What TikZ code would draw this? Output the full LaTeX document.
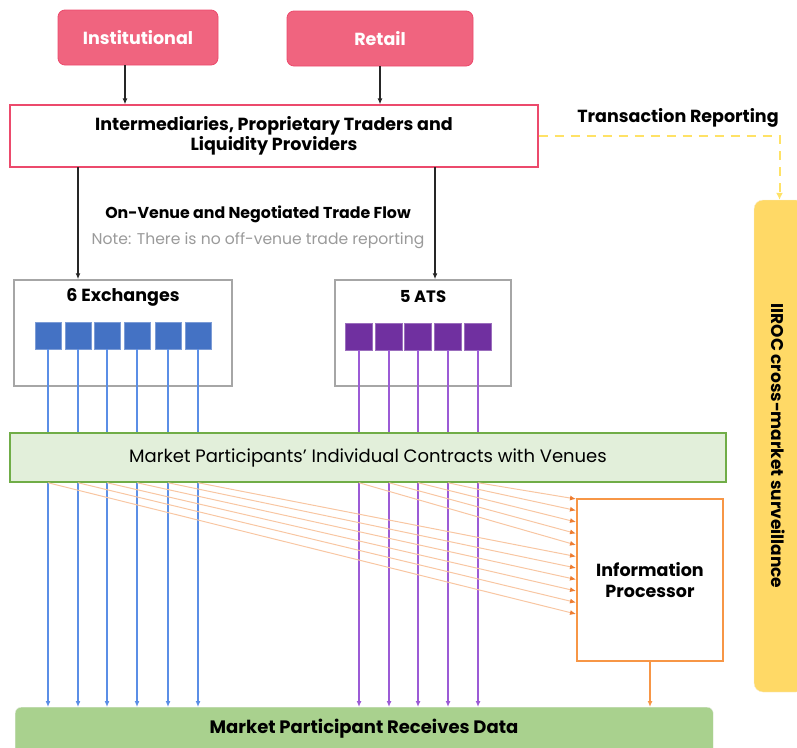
\documentclass[tikz,border=0pt]{standalone}
\usepackage{fontspec}
\setmainfont{Poppins}
\usetikzlibrary{arrows.meta}
\definecolor{pinkfill}{HTML}{F0647F}
\definecolor{pinkline}{HTML}{EC4A6C}
\definecolor{exblue}{HTML}{4472C4}
\definecolor{blueln}{HTML}{5B8EE6}
\definecolor{atspurple}{HTML}{7030A0}
\definecolor{purpleln}{HTML}{9C5BD6}
\definecolor{lightgreen}{HTML}{E2EFDA}
\definecolor{greenline}{HTML}{70AD47}
\definecolor{midgreen}{HTML}{A9D18E}
\definecolor{ipline}{HTML}{F79646}
\definecolor{orangeln}{HTML}{F8C6A2}
\definecolor{orangetip}{HTML}{EE7D31}
\definecolor{yellowbox}{HTML}{FFD966}
\definecolor{yellowdash}{HTML}{FFE266}
\definecolor{graybox}{HTML}{A6A6A6}
\definecolor{notegray}{HTML}{9A9A9A}
\begin{document}
\begin{tikzpicture}[x=1pt,y=-1pt,
  pinkbox/.style={draw=pinkline, fill=pinkfill, rounded corners=7pt, text=white, font=\bfseries\fontsize{17.5}{20}\selectfont, line width=0.8pt},
  interbox/.style={draw=pinkline, fill=white, line width=1.2pt, align=center, font=\bfseries\fontsize{17.5}{20}\selectfont},
  venuebox/.style={draw=graybox, fill=white, line width=1.5pt},
  title/.style={font=\bfseries\fontsize{17.5}{20}\selectfont},
  bluesq/.style={fill=exblue, draw=exblue!70, minimum width=26pt, minimum height=27pt, inner sep=0pt},
  purplesq/.style={fill=atspurple, draw=atspurple!70, minimum width=27pt, minimum height=27pt, inner sep=0pt},
  blarr/.style={draw=blueln, line width=1.4pt, -{Latex[length=6pt,width=5pt]}},
  purarr/.style={draw=purpleln, line width=1.4pt, -{Latex[length=6pt,width=5pt]}},
  blkarr/.style={draw=black!85, line width=1.2pt, -{Latex[length=6pt,width=5pt]}},
  orarr/.style={draw=orangeln, line width=1pt, -{Latex[length=6pt,width=5pt,color=orangetip]}},
  ydash/.style={draw=yellowdash, line width=2pt, dash pattern=on 9pt off 7pt, -{Latex[length=7pt,width=7pt,color=yellowdash]}},
]
\useasboundingbox (0,0) rectangle (797,747);

% top boxes
\node[pinkbox, minimum width=160pt, minimum height=55pt] (inst) at (138,37.5) {Institutional};
\node[pinkbox, minimum width=186pt, minimum height=55pt] (retail) at (380,38.5) {Retail};
\node[interbox, minimum width=528pt, minimum height=62pt] (inter) at (274,136) {Intermediaries, Proprietary Traders and\\Liquidity Providers};

\draw[blkarr] ([xshift=-13pt]inst.south) -- ([xshift=-13pt]inst.south |- inter.north);
\draw[blkarr] (retail.south) -- (retail.south |- inter.north);

% IIROC
\node[draw=yellowbox!90!black!30, fill=yellowbox, rounded corners=9pt, minimum width=51pt, minimum height=492pt] (iiroc) at (779.5,446) {};
\node[rotate=-90, font=\bfseries\fontsize{17}{20}\selectfont] (iirtxt) at (778,446) {IIROC cross-market surveillance};
\node[font=\bfseries\fontsize{17.5}{20}\selectfont] (trlbl) at (678,118) {Transaction Reporting};
\draw[ydash] (inter.east) -- (inter.east -| iiroc.north) -- (iiroc.north);

% venue boxes
\node[venuebox, minimum width=218pt, minimum height=106pt] (exch) at (123,333) {};
\node[venuebox, minimum width=176pt, minimum height=106pt] (ats) at (423,333) {};
\node[title] (exlbl) at (123,297) {6 Exchanges};
\node[title, font=\bfseries\fontsize{16.5}{18}\selectfont] (atslbl) at (423,297) {5 ATS};

\coordinate (c1) at (78,167);
\coordinate (c2) at (435,167);
\draw[blkarr] (c1) -- (c1 |- exch.north);
\draw[blkarr] (c2) -- (c2 |- ats.north);
\node[font=\bfseries\fontsize{15.8}{18}\selectfont] (flow) at (258,214) {On-Venue and Negotiated Trade Flow};
\node[font=\fontsize{15.6}{18}\selectfont, text=notegray] (note) at (258,241) {Note: There is no off-venue trade reporting};

% bottom box
\node[fill=midgreen, draw=midgreen!80!black!20, rounded corners=6pt, minimum width=698pt, minimum height=52pt, anchor=north west] (bottom) at (15,707) {};
\node[font=\bfseries\fontsize{18}{20}\selectfont] (btxt) at (364,729) {Market Participant Receives Data};

% IP box
\node[draw=ipline, fill=white, line width=1.5pt, minimum width=146pt, minimum height=162pt, align=center, font=\bfseries\fontsize{17.5}{21}\selectfont] (ip) at (650,580) {Information\\Processor};
\draw[draw=ipline, line width=1.4pt, -{Latex[length=6pt,width=5pt]}] (ip.south) -- (ip.south |- bottom.north);

% squares
\foreach \i/\x in {1/48,2/78,3/107,4/137,5/168,6/198}{
  \node[bluesq] (v\i) at (\x,335.5) {};
}
\foreach \i/\x in {7/359,8/389,9/418,10/448,11/478}{
  \node[purplesq] (v\i) at (\x,336.5) {};
}
\foreach \i in {1,...,6}{ \draw[blarr] (v\i.south) -- (v\i.south |- bottom.north); }
\foreach \i in {7,...,11}{ \draw[purarr] (v\i.south) -- (v\i.south |- bottom.north); }

% contracts box (on top of lines)
\node[draw=greenline, fill=lightgreen, line width=1.5pt, minimum width=716pt, minimum height=49pt, font=\fontsize{18}{20}\selectfont] (contracts) at (368,457.5) {Market Participants’ Individual Contracts with Venues};

% orange feeds to IP
\foreach \i in {1,...,11}{
  \pgfmathsetmacro{\ty}{614-(\i-1)*11.5}
  \coordinate (t\i) at (576,\ty);
  \draw[orarr] (v\i |- contracts.south) -- (t\i);
}
\end{tikzpicture}
\end{document}
